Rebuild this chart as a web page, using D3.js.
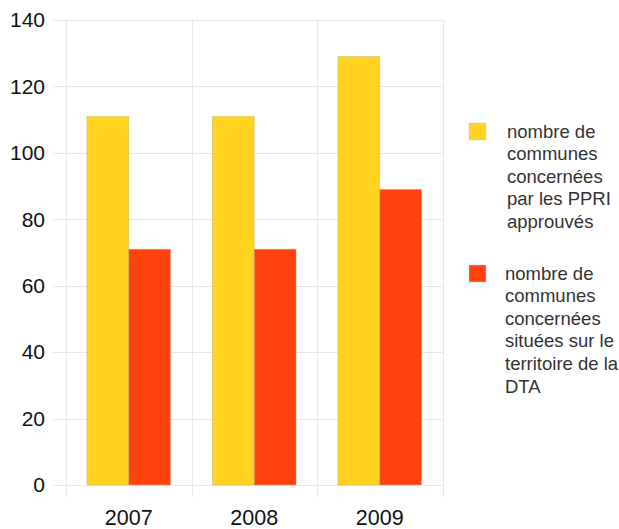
<!DOCTYPE html>
<html>
<head>
<meta charset="utf-8">
<script src="https://cdn.jsdelivr.net/npm/d3@7"></script>
<style>
  html, body { margin: 0; padding: 0; background: #fff; }
  svg { display: block; font-family: "Liberation Sans", Arial, sans-serif; }
</style>
</head>
<body>
<svg id="chart" width="619" height="529"></svg>
<script>
// Years shown on the category axis
const years = ["2007", "2008", "2009"];
// Communes concerned by approved PPRI
const ppriValues = [111, 111, 129];
// Communes concerned located within the DTA territory
const dtaValues = [71, 71, 89];
// Value axis ticks
const yTicks = [0, 20, 40, 60, 80, 100, 120, 140];
// Legend entries (one line of text per array item)
const legendLabels = [
  ["nombre de", "communes", "concernées", "par les PPRI", "approuvés"],
  ["nombre de", "communes", "concernées", "situées sur le", "territoire de la", "DTA"]
];
const colors = ["#ffd320", "#ff420e"];

const svg = d3.select("#chart");
const plotLeft = 66, plotRight = 442.5, plotTop = 20, plotBottom = 485;

const x = d3.scaleBand().domain(years).range([plotLeft, plotRight]).paddingInner(0).paddingOuter(0);
const inner = d3.scaleBand().domain([0, 1]).range([0, x.bandwidth()]).paddingOuter(0.5).paddingInner(0);
const y = d3.scaleLinear().domain([0, 140]).range([plotBottom, plotTop]);

// horizontal gridlines (extend left as tick marks)
svg.append("g").selectAll("line").data(yTicks).join("line")
  .attr("x1", plotLeft - 13).attr("x2", plotRight)
  .attr("y1", d => Math.round(y(d)) + 0.5).attr("y2", d => Math.round(y(d)) + 0.5)
  .attr("stroke", "#e8e8e8").attr("stroke-width", 1);

// vertical gridlines at category boundaries
const bounds = years.map(d => x(d)).concat([plotRight]);
svg.append("g").selectAll("line").data(bounds).join("line")
  .attr("x1", d => Math.round(d) + 0.5).attr("x2", d => Math.round(d) + 0.5)
  .attr("y1", plotTop).attr("y2", plotBottom + 12)
  .attr("stroke", "#e8e8e8").attr("stroke-width", 1);

// y axis labels
const yAxis = d3.axisLeft(y).tickValues(yTicks).tickSize(0).tickPadding(0);
const ya = svg.append("g").attr("transform", `translate(${45},0)`).call(yAxis);
ya.select(".domain").remove();
ya.selectAll("text").attr("font-size", 21).attr("fill", "#111")
  .attr("font-family", "Liberation Sans, Arial, sans-serif");

// x axis labels
const xAxis = d3.axisBottom(x).tickSize(0).tickPadding(0);
const xa = svg.append("g").attr("transform", `translate(0,${510})`).call(xAxis);
xa.select(".domain").remove();
xa.selectAll("text").attr("font-size", 21.5).attr("fill", "#111")
  .attr("font-family", "Liberation Sans, Arial, sans-serif");

// bars
const series = [ppriValues, dtaValues];
series.forEach((vals, si) => {
  svg.append("g").selectAll("rect").data(years).join("rect")
    .attr("x", (d) => x(d) + inner(si))
    .attr("width", inner.bandwidth())
    .attr("y", (d, i) => y(vals[i]))
    .attr("height", (d, i) => y(0) - y(vals[i]))
    .attr("fill", colors[si])
    .attr("stroke", "#c8b27a")
    .attr("stroke-opacity", 0.6)
    .attr("stroke-width", 0.8);
});

// legend
const legendY = [123, 265];
const legendTextX = [507, 505];
legendLabels.forEach((lines, i) => {
  const g = svg.append("g");
  g.append("rect").attr("x", 469).attr("y", legendY[i]).attr("width", 17).attr("height", 17)
    .attr("fill", colors[i]).attr("stroke", "#ccc").attr("stroke-width", 0.5);
  g.selectAll("text").data(lines).join("text")
    .attr("x", legendTextX[i])
    .attr("y", (d, j) => legendY[i] + 14.5 + j * 22.6)
    .attr("font-size", 18.5).attr("fill", "#333")
    .text(d => d);
});
</script>
</body>
</html>
